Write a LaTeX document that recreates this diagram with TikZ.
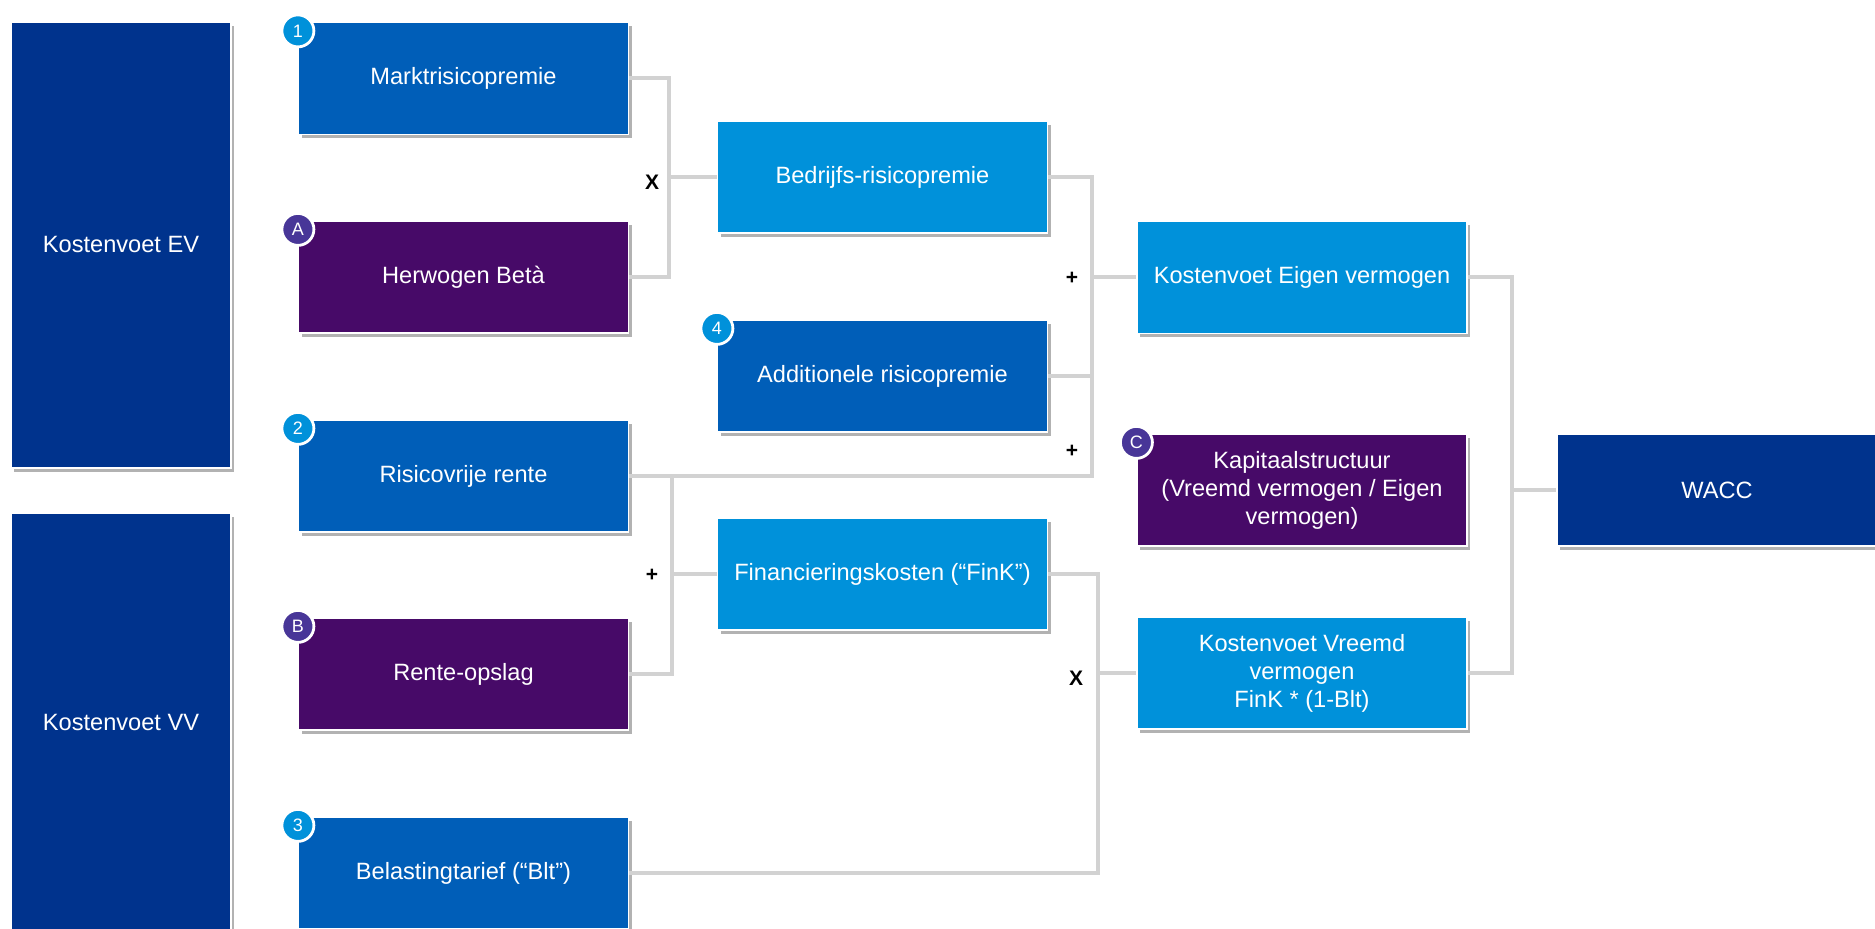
\documentclass[tikz,border=0pt]{standalone}
\usepackage{fontspec}
\setmainfont{Liberation Sans}
\usetikzlibrary{shadows}

\definecolor{kblue}{HTML}{00338D}
\definecolor{kmid}{HTML}{005EB8}
\definecolor{klight}{HTML}{0091DA}
\definecolor{kpurple}{HTML}{470A68}
\definecolor{kviolet}{HTML}{483698}
\definecolor{lijngrijs}{HTML}{D2D2D2}

\tikzset{
  blok/.style={rectangle, text=white, align=center, inner sep=2pt,
    minimum width=165pt, minimum height=56pt, draw=white, line width=0.6pt,
    font=\fontsize{11.8}{14}\selectfont,
    drop shadow={shadow xshift=1.5pt, shadow yshift=-2pt, opacity=0.3, fill=black}},
  hoofd/.style={blok, fill=kblue},
  midden/.style={blok, fill=kmid},
  licht/.style={blok, fill=klight},
  paars/.style={blok, fill=kpurple},
  badge/.style={circle, draw=white, line width=1.4pt, minimum size=16pt,
    inner sep=0pt, text=white, font=\fontsize{9}{9}\selectfont},
  nummer/.style={badge, fill=klight},
  letter/.style={badge, fill=kviolet},
  link/.style={draw=lijngrijs, line width=2pt},
  op/.style={text=black, font=\bfseries\fontsize{10.5}{10.5}\selectfont}
}

\begin{document}
\begin{tikzpicture}[x=0.5pt, y=-0.5pt]
  \useasboundingbox (0,0) rectangle (1875,929);

  % kostenvoeten links
  \node[hoofd, minimum width=110pt, minimum height=223pt] (kev) at (121,245) {Kostenvoet EV};
  \node[hoofd, minimum width=110pt, minimum height=209pt] (kvv) at (121,722) {Kostenvoet VV};

  % invoer
  \node[midden] (markt) at (463.5,78.5) {Marktrisicopremie};
  \node[paars] (beta) at (463.5,277) {Herwogen Betà};
  \node[midden] (rf) at (463.5,476) {Risicovrije rente};
  \node[paars] (opslag) at (463.5,674) {Rente-opslag};
  \node[midden] (blt) at (463.5,873) {Belastingtarief (“Blt”)};

  % tussenresultaten
  \node[licht] (bedr) at (882.5,177) {Bedrijfs-risicopremie};
  \node[midden] (add) at (882.5,376) {Additionele risicopremie};
  \node[licht] (fink) at (882.5,574) {Financieringskosten (“FinK”)};

  \node[licht] (kostev) at (1302,277.5) {Kostenvoet Eigen vermogen};
  \node[paars] (kap) at (1302,490) {Kapitaalstructuur\\(Vreemd vermogen / Eigen\\vermogen)};
  \node[licht] (kostvv) at (1302,673) {Kostenvoet Vreemd\\vermogen\\FinK * (1-Blt)};

  \node[hoofd, minimum width=160pt] (wacc) at (1717,490) {WACC};

  % nummers en letters
  \node[nummer] (n1) at ([yshift=-4.5pt]markt.north west) {1};
  \node[letter] (la) at ([yshift=-4.5pt]beta.north west) {A};
  \node[nummer] (n2) at ([yshift=-4.5pt]rf.north west) {2};
  \node[letter] (lb) at ([yshift=-4.5pt]opslag.north west) {B};
  \node[nummer] (n3) at ([yshift=-4.5pt]blt.north west) {3};
  \node[nummer] (n4) at ([yshift=-4.5pt]add.north west) {4};
  \node[letter] (lc) at ([yshift=-4.5pt]kap.north west) {C};

  % bedrijfsrisicopremie = markt x beta
  \coordinate (jx1) at (669,177);
  \draw[link] (markt.east) -| (jx1) |- (beta.east);
  \draw[link] (jx1) -- (bedr.west);
  \node[op] (x1) at (652,182) {X};

  % kostenvoet EV = bedr + add + rf
  \coordinate (jp1) at (1092,277.5);
  \draw[link] (bedr.east) -| (jp1) |- (rf.east);
  \draw[link] (add.east) -- (add.east -| jp1);
  \draw[link] (jp1) -- (kostev.west);
  \node[op] (p1) at (1072,278) {+};
  \node[op] (p2) at (1072,451) {+};

  % fink = rf + opslag
  \coordinate (jp2) at (672,574);
  \draw[link] (rf.east -| jp2) |- (opslag.east);
  \draw[link] (jp2) -- (fink.west);
  \node[op] (p3) at (652,575) {+};

  % kostenvoet VV = fink x (1-blt)
  \coordinate (jx2) at (1098,673);
  \draw[link] (fink.east) -| (jx2) |- (blt.east);
  \draw[link] (jx2) -- (kostvv.west);
  \node[op] (x2) at (1076,678) {X};

  % wacc
  \coordinate (jw) at (1512,490);
  \draw[link] (kostev.east) -| (jw) |- (kostvv.east);
  \draw[link] (jw) -- (wacc.west);
\end{tikzpicture}
\end{document}
